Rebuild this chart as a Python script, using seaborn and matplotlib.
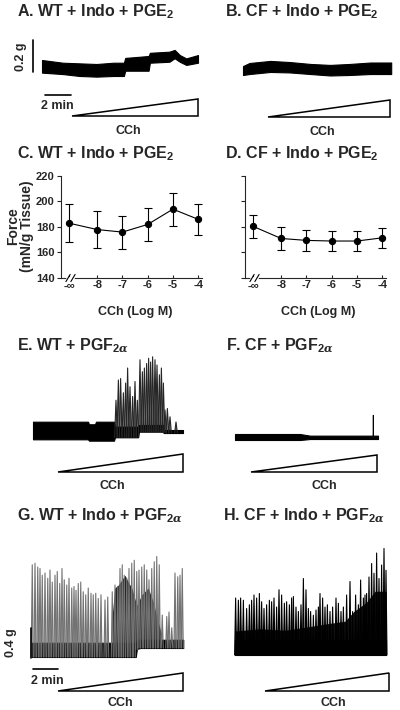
import numpy as np
import matplotlib
matplotlib.use('Agg')
import matplotlib.pyplot as plt
import seaborn as sns
from matplotlib.patches import Polygon

# ---- dose-response data (C, D) ----
cch_labels = ['-∞', '-8', '-7', '-6', '-5', '-4']
cch_pos = [-9.11, -8, -7, -6, -5, -4]      # -inf drawn left of the axis break
wt_force = [183, 178, 176, 182, 194, 186]
wt_sem = [15, 14.5, 13, 13, 13, 12]
cf_force = [180.5, 171, 169.5, 169, 169, 171.5]
cf_sem = [9, 9, 8.5, 7.5, 7.5, 8]

# ---- force traces (time in min, force in g) ----
A_t = [0, 1.6, 2.9, 4.2, 5.5, 6.3, 6.4, 8.2, 8.3, 9.8, 10.2, 10.6, 11.1, 12.0]
A_high = [0.075, 0.058, 0.054, 0.050, 0.058, 0.058, 0.088, 0.100, 0.120, 0.127, 0.138, 0.106, 0.085, 0.106]
A_low = [-0.004, -0.013, -0.025, -0.029, -0.025, -0.025, 0.008, 0.008, 0.058, 0.064, 0.086, 0.064, 0.044, 0.058]

B_t = [0, 0.5, 2.1, 3.6, 5.2, 6.7, 8.2, 9.8, 11.4]
B_high = [0.056, 0.075, 0.088, 0.081, 0.069, 0.063, 0.069, 0.078, 0.078]
B_low = [0.000, 0.006, 0.019, 0.016, 0.006, -0.003, 0.000, 0.006, 0.006]

E_t = [0, 4.4, 4.48, 4.96, 5.04, 6.48, 6.56, 8.4, 8.48, 10.4, 10.48, 12.0]
E_high = [0.244, 0.244, 0.21, 0.21, 0.244, 0.244, 0.178, 0.178, 0.2, 0.2, 0.133, 0.133]
E_low = [0.009, 0.009, -0.009, -0.009, -0.009, -0.009, 0.036, 0.036, 0.111, 0.111, 0.093, 0.093]
E_spk_t = [6.64, 6.83, 7.01, 7.23, 7.41, 7.57, 7.76, 7.97, 8.16, 8.35, 8.56, 8.75, 8.91,
           9.09, 9.25, 9.41, 9.57, 9.76, 9.92, 10.11, 10.27, 10.43, 10.56, 10.75, 10.96, 11.44]
E_spk_h = [0.53, 0.80, 0.82, 0.63, 0.76, 0.96, 0.71, 0.58, 0.78, 0.53, 1.07, 0.91, 0.96,
           1.02, 1.09, 1.04, 1.11, 1.07, 1.00, 0.87, 0.96, 0.76, 0.40, 0.42, 0.31, 0.24]

F_t = [0, 5.2, 6.0, 11.44]
F_high = [0.08, 0.08, 0.058, 0.058]
F_low = [0.0, 0.0, 0.013, 0.013]
F_spk_t = [11.06]
F_spk_h = [0.33]

G_t = [0, 8.3, 8.4, 12.1]
G_high = [0.19, 0.19, 0.23, 0.23]
G_low = [0.0, 0.0, 0.12, 0.12]
G_dark_t = [6.42, 6.62, 6.9, 7.44, 7.7, 7.98, 8.38, 8.78, 9.3, 9.7, 10.1, 10.38]
G_dark_h = [0.56, 0.92, 0.96, 1.09, 1.00, 0.92, 0.69, 0.83, 0.92, 0.73, 0.47, 0.29]
G_spk_t = [0.02, 0.24, 0.46, 0.64, 0.82, 1.04, 1.26, 1.44, 1.62, 1.84, 2.02, 2.22, 2.40, 2.58,
           2.78, 2.96, 3.18, 3.36, 3.52, 3.70, 3.90, 4.10, 4.30, 4.50, 4.72, 4.90, 5.10, 5.30,
           5.52, 5.84, 6.06, 6.42, 6.64, 6.86, 7.04, 7.22, 7.38, 7.58, 7.76, 7.98, 8.18, 8.38,
           8.56, 8.78, 8.98, 9.18, 9.36, 9.58, 9.78, 9.98, 10.18, 10.42, 10.78, 10.96, 11.18,
           11.44, 11.66, 11.84, 12.02]
G_spk_h = [1.23, 1.25, 1.20, 1.18, 1.09, 1.12, 1.05, 1.16, 1.00, 1.09, 1.14, 0.98, 1.18, 1.03,
           0.96, 1.05, 0.92, 0.94, 0.89, 0.98, 1.00, 0.87, 0.83, 0.92, 0.85, 0.83, 0.85, 0.78,
           0.83, 0.76, 0.80, 0.87, 0.96, 0.94, 1.18, 1.23, 1.09, 1.05, 1.18, 1.25, 1.29, 1.14,
           1.16, 1.20, 1.23, 1.16, 1.03, 1.18, 1.27, 1.34, 1.23, 0.56, 0.54, 0.60, 0.39,
           1.12, 1.07, 1.09, 1.18]

H_t = [0, 2, 4, 6, 7.5, 8.8, 9.5, 10.5, 11.2, 12.1]
H_dense = [0.32, 0.35, 0.33, 0.38, 0.42, 0.45, 0.58, 0.70, 0.85, 0.85]
H_spk_t = [0.05, 0.27, 0.45, 0.67, 0.93, 1.15, 1.33, 1.52, 1.73, 1.95, 2.13, 2.32, 2.53, 2.75,
           2.93, 3.12, 3.33, 3.52, 3.73, 3.95, 4.13, 4.35, 4.53, 4.67, 4.88, 5.07, 5.28, 5.47,
           5.68, 5.87, 6.05, 6.27, 6.48, 6.67, 6.80, 7.01, 7.20, 7.39, 7.60, 7.81, 8.08, 8.27,
           8.48, 8.67, 8.93, 9.20, 9.41, 9.65, 9.87, 10.05, 10.27, 10.40, 10.53, 10.72, 10.93,
           11.12, 11.33, 11.52, 11.73, 11.92, 12.08]
H_spk_h = [0.76, 0.73, 0.76, 0.73, 0.62, 0.67, 0.73, 0.80, 0.76, 0.82, 0.71, 0.62, 0.67, 0.73,
           0.71, 0.76, 0.64, 0.87, 0.80, 0.69, 0.71, 0.67, 0.76, 0.78, 0.64, 0.58, 0.67, 1.02,
           0.87, 0.62, 0.58, 0.53, 0.60, 0.64, 0.82, 0.76, 0.64, 0.67, 0.58, 0.64, 0.76, 0.69,
           0.58, 0.64, 0.80, 0.98, 0.58, 0.80, 0.67, 1.00, 0.76, 0.80, 0.82, 1.04, 1.22,
           1.09, 1.36, 1.02, 1.20, 1.42, 1.13]

# ---- figure setup ----
sns.set_style('ticks')
plt.rcParams['font.family'] = ['Liberation Sans', 'DejaVu Sans']
plt.rcParams['font.weight'] = 'bold'
plt.rcParams['mathtext.fontset'] = 'custom'
plt.rcParams['mathtext.rm'] = 'Liberation Sans:bold'
plt.rcParams['mathtext.it'] = 'DejaVu Serif:italic'

W, H = 400, 710
fig = plt.figure(figsize=(W / 100, H / 100), dpi=100)


def px_axes(L, T, R, B):
    return fig.add_axes([L / W, 1 - B / H, (R - L) / W, (B - T) / H])


def trace_axes(L, T, R, B, x0, y0, ppm, ppg):
    ax = px_axes(L, T, R, B)
    ax.set_xlim((L - x0) / ppm, (R - x0) / ppm)
    ax.set_ylim((y0 - B) / ppg, (y0 - T) / ppg)
    ax.axis('off')
    return ax


def spikes(ax, t, h, base_t, base_lo, color, fill, w=0.07, lw=0.6):
    for ti, hi in zip(t, h):
        b = np.interp(ti, base_t, base_lo)
        ax.fill([ti - w, ti, ti + w], [b, hi, b], color=fill, lw=0)
        ax.plot([ti - w, ti, ti + w], [b, hi, b], color=color, lw=lw)


# overlay in pixel coordinates for labels, triangles
ov = fig.add_axes([0, 0, 1, 1])
ov.set_xlim(0, W)
ov.set_ylim(H, 0)
ov.axis('off')

tfs = 11.5
titles = [
    (17, 16.5, r'A. WT + Indo + PGE$_2$'), (225, 16.5, r'B. CF + Indo + PGE$_2$'),
    (17, 158, r'C. WT + Indo + PGE$_2$'), (225, 158, r'D. CF + Indo + PGE$_2$'),
    (17, 350, r'E. WT + PGF$_{2\alpha}$'), (226, 350, r'F. CF + PGF$_{2\alpha}$'),
    (17, 520, r'G. WT + Indo + PGF$_{2\alpha}$'), (223, 520, r'H. CF + Indo + PGF$_{2\alpha}$'),
]
for x, y, s in titles:
    ov.text(x, y, s, fontsize=tfs, fontweight='bold', va='baseline', ha='left')

tris = [(72, 198, 116, 99), (268, 390, 117, 100), (58, 183, 472, 454),
        (251, 377, 472, 455), (58, 183, 691, 673), (265, 389, 691, 673)]
for x1, x2, yb, yt in tris:
    ov.add_patch(Polygon([(x1, yb), (x2, yb), (x2, yt)], closed=True,
                         fc='white', ec='black', lw=1.1))

sfs = 9
for x, y in [(128, 131), (322, 132), (112, 486), (324, 486), (120, 703), (333, 703)]:
    ov.text(x, y, 'CCh', fontsize=sfs, fontweight='bold', ha='center', va='center')

ov.text(21, 57, '0.2 g', rotation=90, fontsize=sfs, fontweight='bold', ha='center', va='center')
ov.text(57, 106, '2 min', fontsize=sfs, fontweight='bold', ha='center', va='center')
ov.text(11, 643, '0.4 g', rotation=90, fontsize=sfs, fontweight='bold', ha='center', va='center')
ov.text(47, 681, '2 min', fontsize=sfs, fontweight='bold', ha='center', va='center')

ov.text(20, 226, 'Force\n(mN/g Tissue)', rotation=90, fontsize=10, fontweight='bold',
        ha='center', va='center', multialignment='center', linespacing=1.05)
ov.text(135, 312, 'CCh (Log M)', fontsize=sfs, fontweight='bold', ha='center', va='center')
ov.text(318, 312, 'CCh (Log M)', fontsize=sfs, fontweight='bold', ha='center', va='center')

# ---- A ----
ax = trace_axes(28, 35, 200, 100, 42, 72, 13, 160)
ax.fill_between(A_t, A_low, A_high, color='k', lw=0.8)
ax.plot([-0.7, -0.7], [0, 0.2], color='k', lw=1.2)
ax.plot([0.23, 2.23], [-0.144, -0.144], color='k', lw=1.2)

# ---- B ----
ax = trace_axes(238, 55, 395, 82, 243, 75, 13, 160)
ax.fill_between(B_t, B_low, B_high, color='k', lw=0.8)

# ---- E ----
ax = trace_axes(28, 350, 190, 445, 33, 440, 12.5, 75)
spikes(ax, E_spk_t, E_spk_h, E_t, E_low, '0.15', '0.45', w=0.11, lw=0.8)
ax.fill_between(E_t, E_low, E_high, color='k', lw=0.8)

# ---- F ----
ax = trace_axes(230, 410, 385, 445, 235, 440, 12.5, 75)
ax.fill_between(F_t, F_low, F_high, color='k', lw=0.8)
spikes(ax, F_spk_t, F_spk_h, F_t, F_low, 'k', 'k', w=0.02)

# ---- G ----
ax = trace_axes(25, 545, 190, 675, 32, 657, 12.5, 75)
spikes(ax, G_spk_t, G_spk_h, G_t, G_low, '0.45', '0.7', w=0.08, lw=0.8)
ax.fill_between(G_dark_t, np.interp(G_dark_t, G_t, G_low), G_dark_h, color='0.05', alpha=0.9, lw=0)
ax.fill_between(G_t, G_low, G_high, color='k', lw=0.8)
ax.plot([-0.05, -0.05], [-0.01, 0.39], color='k', lw=1.2)
ax.plot([0.08, 2.08], [-0.16, -0.16], color='k', lw=1.2)

# ---- H ----
ax = trace_axes(230, 540, 392, 660, 235, 655, 12.5, 75)
spikes(ax, H_spk_t, H_spk_h, H_t, np.zeros(len(H_t)), 'k', '0.3', w=0.08, lw=0.8)
ax.fill_between(H_t, 0, H_dense, color='k', alpha=0.92, lw=0)
ax.fill_between(H_t, 0, 0.2, color='k', lw=0.8)

# ---- C / D dose-response ----
for (L, R), force, sem, showy in [((61, 202), wt_force, wt_sem, True),
                                  ((245, 386), cf_force, cf_sem, False)]:
    ax = px_axes(L, 176, R, 278)
    sns.lineplot(x=cch_pos, y=force, ax=ax, color='k', lw=0.8, marker='o',
                 markersize=4.5, markeredgecolor='k', sort=False)
    ax.errorbar(cch_pos, force, yerr=sem, fmt='none', ecolor='k', elinewidth=0.8,
                capsize=3, capthick=0.8)
    ax.set_xlim(-9.43, -3.85)
    ax.set_ylim(140, 220)
    ax.set_yticks([140, 160, 180, 200, 220])
    ax.set_xticks(cch_pos)
    ax.set_xticklabels(cch_labels)
    sns.despine(ax=ax)
    for sp in ['left', 'bottom']:
        ax.spines[sp].set_linewidth(0.8)
    ax.tick_params(axis='y', direction='out', length=3, width=0.8, labelsize=8,
                   pad=1.5, labelleft=showy)
    ax.tick_params(axis='x', direction='in', length=2, width=0.8, labelsize=8, pad=1.5)
    for lab in ax.get_xticklabels() + ax.get_yticklabels():
        lab.set_fontweight('bold')
    # axis break on x
    ax.plot([0.045, 0.085], [0, 0], transform=ax.transAxes, color='white', lw=2,
            clip_on=False, zorder=5)
    for x0 in (0.035, 0.07):
        ax.plot([x0, x0 + 0.03], [-0.035, 0.035], transform=ax.transAxes, color='k',
                lw=0.8, clip_on=False, zorder=6)

fig.savefig('out.png', dpi=100)
